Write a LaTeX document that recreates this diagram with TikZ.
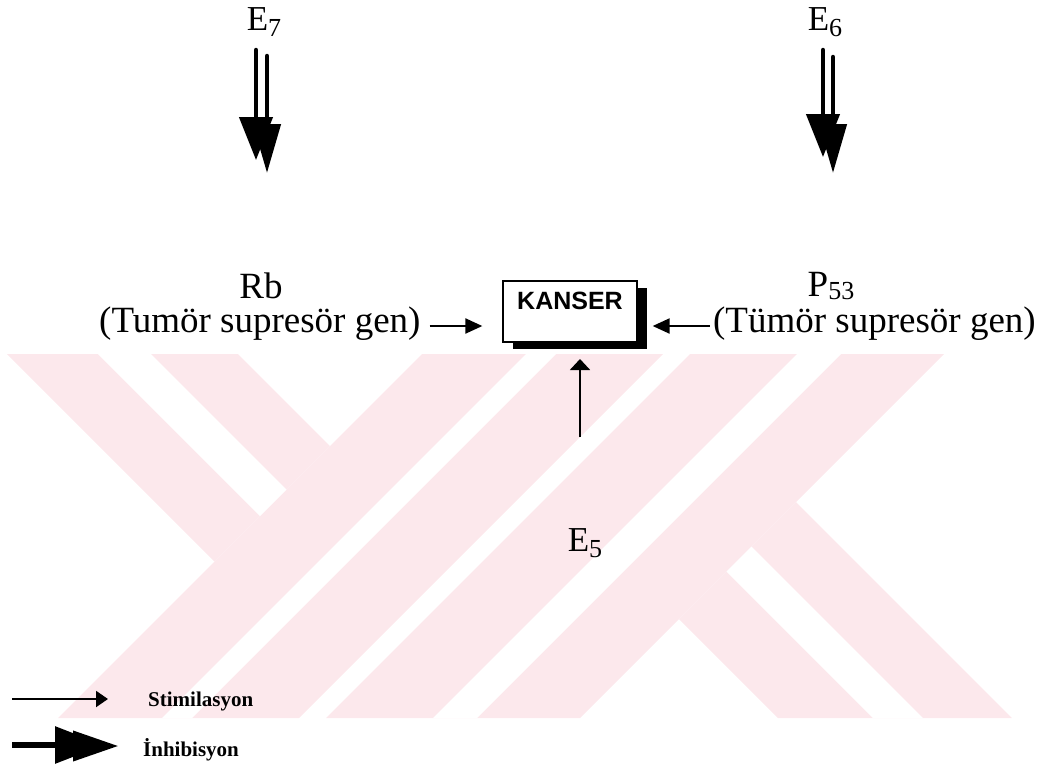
\documentclass[tikz,border=0pt]{standalone}
\usepackage{fontspec}
\setmainfont{Liberation Serif}
\newfontfamily\boxfont{Liberation Sans}
\usetikzlibrary{arrows.meta,shadows,calc}
\definecolor{wmpink}{RGB}{252,232,236}
% large, slightly lowered subscript as used in the labels
\newcommand\lowidx[2][6pt]{\raisebox{-#1}{\fontsize{26}{26}\selectfont #2}}

\begin{document}
\begin{tikzpicture}[x=1pt,y=-1pt,
  lbl/.style={font=\fontsize{37}{40}\selectfont, inner sep=0pt, anchor=base},
  elbl/.style={font=\fontsize{35}{38}\selectfont, inner sep=0pt, anchor=base},
  legendtxt/.style={font=\fontsize{21}{24}\selectfont\bfseries, inner sep=0pt, anchor=base west},
  kanserbox/.style={draw, line width=1.3pt, fill=white, anchor=base,
    font=\boxfont\bfseries\fontsize{25}{28}\selectfont,
    text height=18pt, text depth=23pt, inner ysep=10pt, inner xsep=0pt,
    minimum width=134pt,
    drop shadow={shadow xshift=10pt, shadow yshift=-7pt, fill=black, opacity=1}},
  stim/.style={line width=2.2pt, -{Triangle[length=17pt,width=15pt]}},
  upstim/.style={line width=1.8pt, -{Triangle[length=11pt,width=20pt]}},
  legstim/.style={line width=2pt, -{Triangle[length=12pt,width=16pt]}},
  heavyA/.style={line width=4.5pt, line cap=round, -{Triangle[length=43pt,width=33pt]}},
  heavyB/.style={line width=4.5pt, line cap=round, -{Triangle[length=49pt,width=27pt]}},
]
\useasboundingbox (0,0) rectangle (1045,777);

% background band of diagonal strokes
\fill[wmpink] (7,354) -- (238,354) -- (330,446) -- (214.5,561.5) -- cycle;
\fill[wmpink] (422,354) -- (663,354) -- (299,718) -- (58,718) -- cycle;
\fill[wmpink] (690,354) -- (944,354) -- (580,718) -- (326,718) -- cycle;
\fill[wmpink] (679,619) -- (796,502) -- (1012,718) -- (778,718) -- cycle;
\fill[white] (98,354) -- (151,354) -- (286.5,489.5) -- (260,516) -- cycle;
\fill[white] (526,354) -- (556,354) -- (192,718) -- (162,718) -- cycle;
\fill[white] (797,354) -- (841,354) -- (477,718) -- (433,718) -- cycle;
\fill[white] (726.5,571.5) -- (751.5,546.5) -- (923,718) -- (873,718) -- cycle;

% labels
\node[elbl] (e7) at (264,30) {E\lowidx{7}};
\node[elbl] (e6) at (825,30) {E\lowidx{6}};
\node[lbl] (rb) at (261,298) {Rb};
\node[lbl] (p53) at (831,296) {P\lowidx[3pt]{53}};
\node[lbl, anchor=base west] (rbtxt) at (99,332) {(Tumör supresör gen)};
\node[lbl, anchor=base east] (p53txt) at (1036,332) {(Tümör supresör gen)};
\node[elbl] (e5) at (585,551) {E\lowidx{5}};
\node[kanserbox] (kanser) at (570,309) {KANSER};

% double heavy arrows under E7 and E6
\coordinate (e7a1) at (256,50);  \coordinate (e7b1) at (256,160);
\coordinate (e7a2) at (267,56);  \coordinate (e7b2) at (267,173);
\coordinate (e6a1) at (823,50);  \coordinate (e6b1) at (823,157);
\coordinate (e6a2) at (833,57);  \coordinate (e6b2) at (833,173);
\draw[heavyB] (e7a2) -- (e7b2);
\draw[heavyA] (e7a1) -- (e7b1);
\draw[heavyB] (e6a2) -- (e6b2);
\draw[heavyA] (e6a1) -- (e6b1);

% arrows into the box
\coordinate (rbA) at ($(rbtxt.base east)+(9,-6)$);
\coordinate (rbB) at ($(kanser.west |- rbA)+(-20,0)$);
\draw[stim] (rbA) -- (rbB);
\coordinate (pA) at ($(p53txt.base west)+(-3,-6)$);
\coordinate (pB) at ($(kanser.east |- pA)+(15,0)$);
\draw[stim] (pA) -- (pB);
\coordinate (e5A) at (580,437);
\coordinate (e5B) at (580,359);
\draw[upstim] (e5A) -- (e5B);

% legend
\coordinate (s1) at (12,699); \coordinate (s2) at (108,699);
\draw[legstim] (s1) -- (s2);
\node[legendtxt] (stimtxt) at (148,706) {Stimilasyon};
\coordinate (i1) at (12,745); \coordinate (i2) at (104,745);
\coordinate (i3) at (40,746); \coordinate (i4) at (118,746);
\draw[line width=6pt, -{Triangle[length=49pt,width=36pt]}] (i1) -- (i2);
\draw[line width=4pt, -{Triangle[length=45pt,width=30pt]}] (i3) -- (i4);
\node[legendtxt] (inhtxt) at (143,756) {İnhibisyon};
\end{tikzpicture}
\end{document}
